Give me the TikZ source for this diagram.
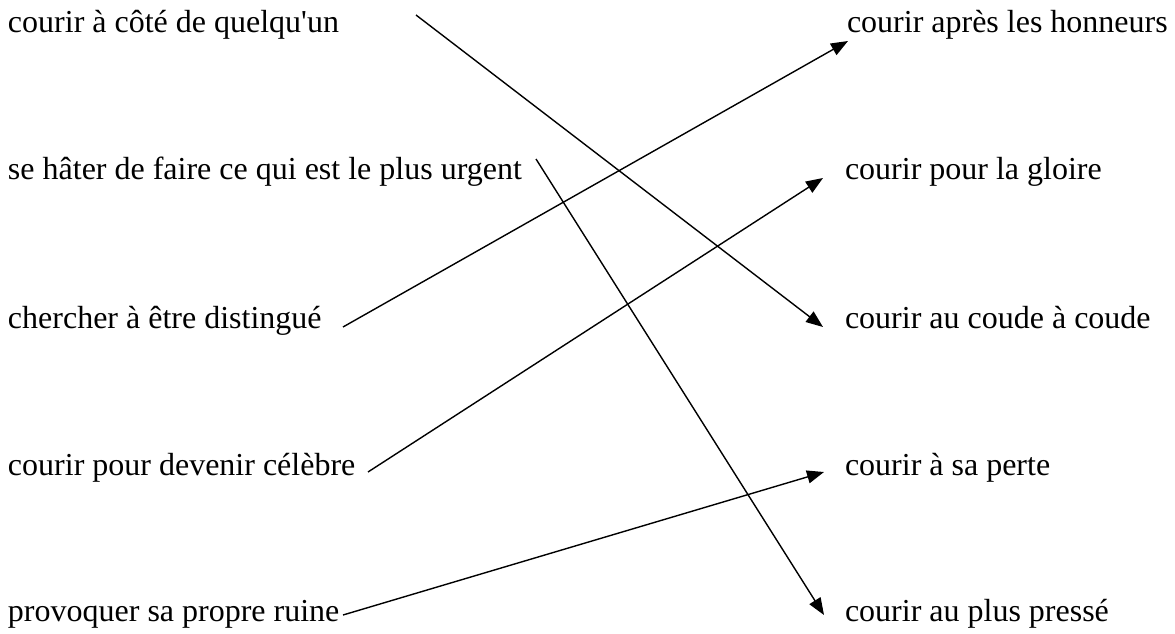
\documentclass[tikz,border=0pt]{standalone}
\usepackage{fontspec}
\setmainfont{Liberation Serif}
\usetikzlibrary{arrows.meta}
\tikzstyle{phrase}=[inner sep=0pt, outer sep=0pt, anchor=base west, font=\fontsize{32}{38}\selectfont]
\tikzstyle{link}=[line width=1.4pt, -{Triangle[length=17pt,width=13pt]}]

\begin{document}
\begin{tikzpicture}[x=1pt, y=-1pt]
    \path [use as bounding box] (0,0) rectangle (1175,634);
    % left column
    \node [phrase] (l1) at (8,33) {courir à côté de quelqu\textquotesingle un};
    \node [phrase] (l2) at (8,179) {se hâter de faire ce qui est le plus urgent};
    \node [phrase] (l3) at (8,328) {chercher à être distingué};
    \node [phrase] (l4) at (8,475) {courir pour devenir célèbre};
    \node [phrase] (l5) at (8,621) {provoquer sa propre ruine};
    % right column
    \node [phrase] (r1) at (847,33) {courir après les honneurs};
    \node [phrase] (r2) at (845,179) {courir pour la gloire};
    \node [phrase] (r3) at (845,328) {courir au coude à coude};
    \node [phrase] (r4) at (845,475) {courir à sa perte};
    \node [phrase] (r5) at (845,621) {courir au plus pressé};
    % free ends
    \coordinate (s1) at (416,15);
    \coordinate (s2) at (536,159);
    \coordinate (s3) at (343,327);
    \coordinate (s4) at (368,472);
    \coordinate (s5) at (343,615);
    \coordinate (t1) at (823,327);
    \coordinate (t2) at (824,615);
    \coordinate (t3) at (848,41);
    \coordinate (t4) at (823,178);
    \coordinate (t5) at (824,472);
    % links
    \draw [link] (s1) -- (t1);
    \draw [link] (s2) -- (t2);
    \draw [link] (s3) -- (t3);
    \draw [link] (s4) -- (t4);
    \draw [link] (s5) -- (t5);
\end{tikzpicture}
\end{document}
